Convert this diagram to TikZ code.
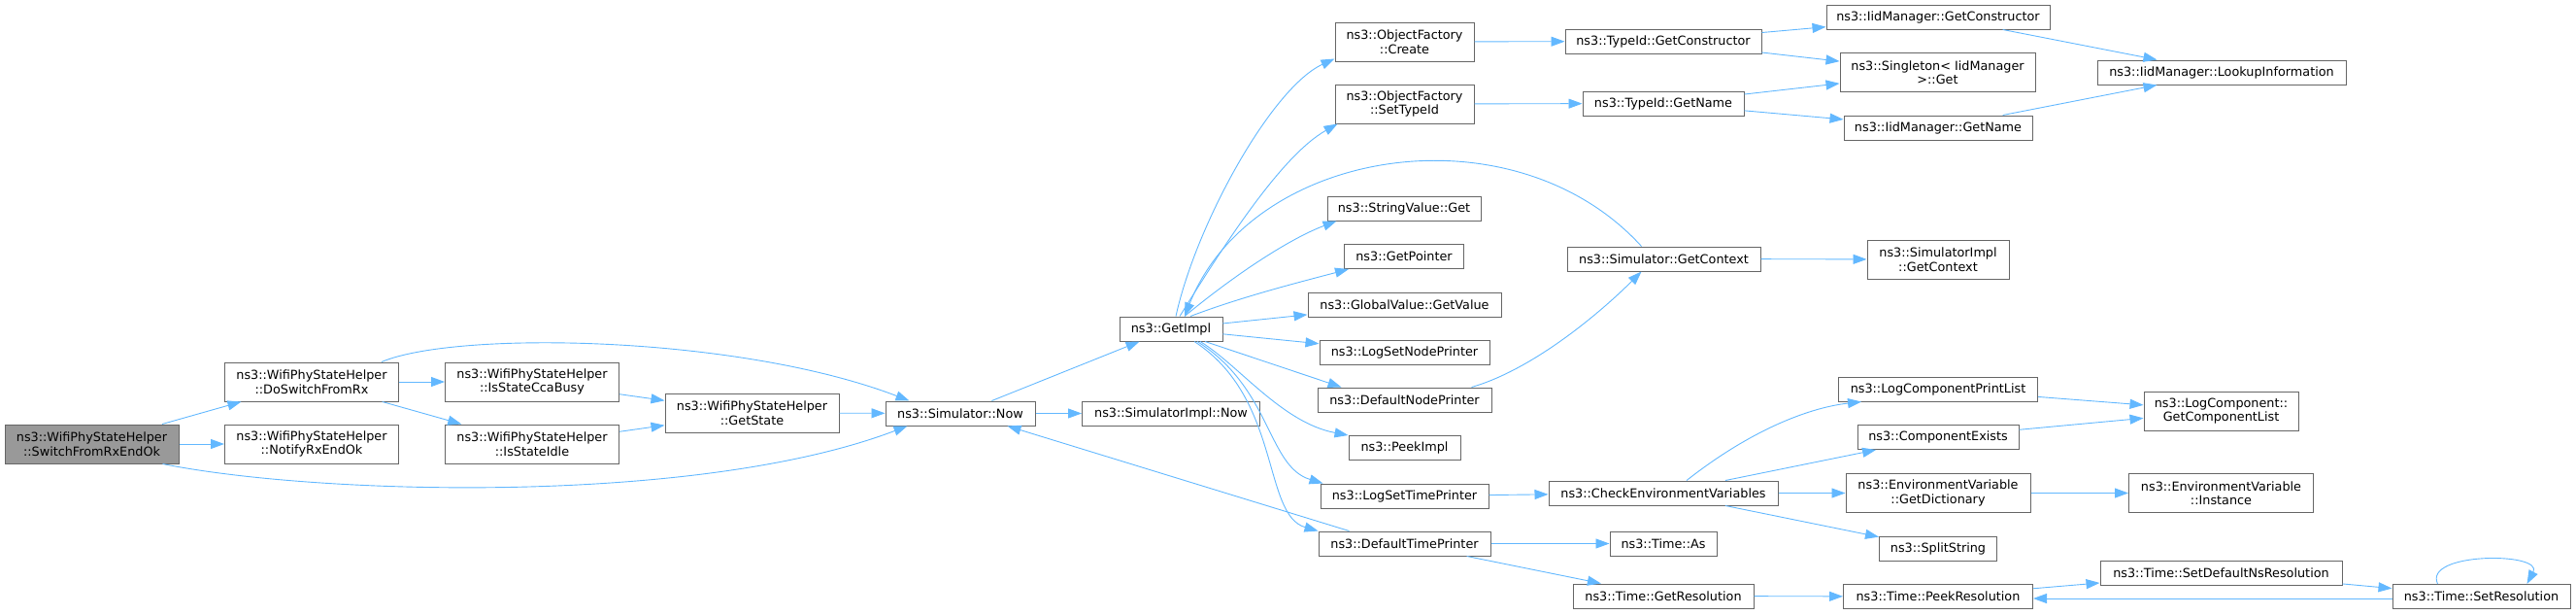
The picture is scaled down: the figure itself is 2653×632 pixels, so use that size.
\documentclass[tikz,border=0pt]{standalone}
\usepackage{fontspec}
\setmainfont{DejaVu Sans}
\usetikzlibrary{arrows.meta}
\definecolor{edgeblue}{HTML}{63B8FF}
\definecolor{boxline}{HTML}{666666}
\definecolor{rootfill}{HTML}{999999}

\begin{document}
\begin{tikzpicture}[x=1pt,y=-1pt,
		fn/.style={draw=boxline,fill=white,line width=1pt,inner sep=0pt,align=center,font=\fontsize{12.8}{14.5}\selectfont},
		one/.style={fn,minimum height=25pt},
		two/.style={fn,minimum height=40pt},
		call/.style={draw=edgeblue,line width=0.9pt,-{Triangle[length=14pt,width=10pt]}}]
		\useasboundingbox (0,0) rectangle (2653,632);
		\node [two,fill=rootfill,minimum width=179pt] (switch) at (94.5,457) {ns3::WifiPhyStateHelper\\::SwitchFromRxEndOk};
		\node [two,minimum width=179pt] (doswitch) at (321,393) {ns3::WifiPhyStateHelper\\::DoSwitchFromRx};
		\node [two,minimum width=179pt] (notify) at (321,457) {ns3::WifiPhyStateHelper\\::NotifyRxEndOk};
		\node [two,minimum width=179pt] (ccabusy) at (548,393) {ns3::WifiPhyStateHelper\\::IsStateCcaBusy};
		\node [two,minimum width=179pt] (idle) at (548,457) {ns3::WifiPhyStateHelper\\::IsStateIdle};
		\node [two,minimum width=179pt] (getstate) at (774.5,425) {ns3::WifiPhyStateHelper\\::GetState};
		\node [one,minimum width=154pt] (simnow) at (989,425.5) {ns3::Simulator::Now};
		\node [one,minimum width=106pt] (getimpl) at (1206,338.5) {ns3::GetImpl};
		\node [one,minimum width=183pt] (implnow) at (1206,425.5) {ns3::SimulatorImpl::Now};
		\node [two,minimum width=143pt] (create) at (1446.5,43) {ns3::ObjectFactory\\::Create};
		\node [two,minimum width=143pt] (settypeid) at (1446.5,107) {ns3::ObjectFactory\\::SetTypeId};
		\node [one,minimum width=158pt] (strget) at (1446,214.5) {ns3::StringValue::Get};
		\node [one,minimum width=123pt] (getptr) at (1446,264) {ns3::GetPointer};
		\node [one,minimum width=199pt] (getvalue) at (1446.5,313.5) {ns3::GlobalValue::GetValue};
		\node [one,minimum width=175pt] (lognode) at (1446.5,362.5) {ns3::LogSetNodePrinter};
		\node [one,minimum width=179pt] (defnode) at (1446.5,411.5) {ns3::DefaultNodePrinter};
		\node [one,minimum width=115pt] (peekimpl) at (1446.5,461) {ns3::PeekImpl};
		\node [one,minimum width=173pt] (logtime) at (1446.5,510.5) {ns3::LogSetTimePrinter};
		\node [one,minimum width=177pt] (deftime) at (1446.5,559.5) {ns3::DefaultTimePrinter};
		\node [one,minimum width=202pt] (tidctor) at (1713,42.5) {ns3::TypeId::GetConstructor};
		\node [one,minimum width=166pt] (tidname) at (1713,106.5) {ns3::TypeId::GetName};
		\node [one,minimum width=199pt] (getctx) at (1713.5,266.5) {ns3::Simulator::GetContext};
		\node [one,minimum width=236pt] (checkenv) at (1713,507.5) {ns3::CheckEnvironmentVariables};
		\node [one,minimum width=110pt] (timeas) at (1713,559.5) {ns3::Time::As};
		\node [one,minimum width=186pt] (getres) at (1713,613.5) {ns3::Time::GetResolution};
		\node [one,minimum width=230pt] (iidctor) at (1996,17.5) {ns3::IidManager::GetConstructor};
		\node [two,minimum width=201pt] (singleton) at (1995.5,74.5) {ns3::Singleton< IidManager\\ >::Get};
		\node [one,minimum width=194pt] (iidname) at (1996,131.5) {ns3::IidManager::GetName};
		\node [two,minimum width=146pt] (implctx) at (1996,267) {ns3::SimulatorImpl\\::GetContext};
		\node [one,minimum width=205pt] (printlist) at (1996,400.5) {ns3::LogComponentPrintList};
		\node [one,minimum width=166pt] (compexists) at (1996,450) {ns3::ComponentExists};
		\node [two,minimum width=190pt] (getdict) at (1996,507.5) {ns3::EnvironmentVariable\\::GetDictionary};
		\node [one,minimum width=121pt] (split) at (1996,565) {ns3::SplitString};
		\node [one,minimum width=195pt] (peekres) at (1996,614) {ns3::Time::PeekResolution};
		\node [one,minimum width=256pt] (lookup) at (2288,74.5) {ns3::IidManager::LookupInformation};
		\node [two,minimum width=159pt] (complist) at (2287.5,423) {ns3::LogComponent::\\GetComponentList};
		\node [two,minimum width=190pt] (instance) at (2287.5,507.5) {ns3::EnvironmentVariable\\::Instance};
		\node [one,minimum width=249pt] (setdefns) at (2287.5,589.5) {ns3::Time::SetDefaultNsResolution};
		\node [one,minimum width=183pt] (setres) at (2555.5,614) {ns3::Time::SetResolution};
		\draw [call] (switch) -- (doswitch);
		\draw [call] (switch) -- (notify);
		\draw [call] ([xshift=-17pt]switch.south east) .. controls (330,510) and (720,520) .. ([xshift=23pt]simnow.south west);
		\draw [call] (doswitch) -- (ccabusy);
		\draw [call] (doswitch) -- (idle);
		\draw [call] ([xshift=-18pt]doswitch.north east) .. controls (470,340) and (760,345) .. ([xshift=25pt]simnow.north west);
		\draw [call] (ccabusy) -- (getstate);
		\draw [call] (idle) -- (getstate);
		\draw [call] (getstate) -- (simnow);
		\draw [call] (simnow) -- (getimpl);
		\draw [call] (simnow) -- (implnow);
		\draw [call] ([xshift=5pt]getimpl.north) .. controls (1232,230) and (1310,90) .. ([yshift=3pt]create.south west);
		\draw [call] ([xshift=9pt]getimpl.north) .. controls (1262,250) and (1320,160) .. ([xshift=3pt]settypeid.south west);
		\draw [call] ([xshift=14pt]getimpl.north) .. controls (1275,280) and (1330,245) .. ([xshift=10pt]strget.south west);
		\draw [call] ([xshift=20pt]getimpl.north) .. controls (1280,305) and (1340,290) .. ([xshift=5pt]getptr.south west);
		\draw [call] (getimpl) -- (getvalue);
		\draw [call] (getimpl) -- (lognode);
		\draw [call] ([xshift=35pt]getimpl.south) -- ([xshift=25pt]defnode.north west);
		\draw [call] ([xshift=30pt]getimpl.south) .. controls (1275,375) and (1320,435) .. (peekimpl.north west);
		\draw [call] ([xshift=27pt]getimpl.south) .. controls (1310,400) and (1305,480) .. ([xshift=3pt]logtime.north west);
		\draw [call] ([xshift=24pt]getimpl.south) .. controls (1320,410) and (1300,530) .. (deftime.north west);
		\draw [call] ([xshift=-23pt]getctx.north) .. controls (1560,110) and (1290,150) .. ([xshift=14pt]getimpl.north);
		\draw [call] ([xshift=-21pt]defnode.north east) .. controls (1580,380) and (1650,320) .. ([xshift=-23pt]getctx.south);
		\draw [call] ([xshift=32pt]deftime.north west) -- ([xshift=-29pt]simnow.south east);
		\draw [call] (create) -- (tidctor);
		\draw [call] (settypeid) -- (tidname);
		\draw [call] (tidctor) -- (iidctor);
		\draw [call] (tidctor) -- (singleton);
		\draw [call] (tidname) -- (singleton);
		\draw [call] (tidname) -- (iidname);
		\draw [call] (iidctor) -- (lookup);
		\draw [call] (iidname) -- (lookup);
		\draw [call] (getctx) -- (implctx);
		\draw [call] (logtime) -- (checkenv);
		\draw [call] ([xshift=24pt]checkenv.north) .. controls (1800,445) and (1860,420) .. ([xshift=24pt]printlist.south west);
		\draw [call] (checkenv) -- (compexists);
		\draw [call] (checkenv) -- (getdict);
		\draw [call] (checkenv) -- (split);
		\draw [call] (printlist) -- (complist);
		\draw [call] (compexists) -- (complist);
		\draw [call] (getdict) -- (instance);
		\draw [call] (deftime) -- (timeas);
		\draw [call] (deftime) -- (getres);
		\draw [call] (getres) -- (peekres);
		\draw [call] (peekres) -- (setdefns);
		\draw [call] (setdefns) -- (setres);
		\draw [call] ([yshift=-2pt]setres.west) -- ([yshift=-2pt]peekres.east);
		\draw [call] ([xshift=-45pt]setres.north) .. controls (2495,568) and (2620,568) .. ([xshift=47pt]setres.north);
	\end{tikzpicture}
\end{document}
